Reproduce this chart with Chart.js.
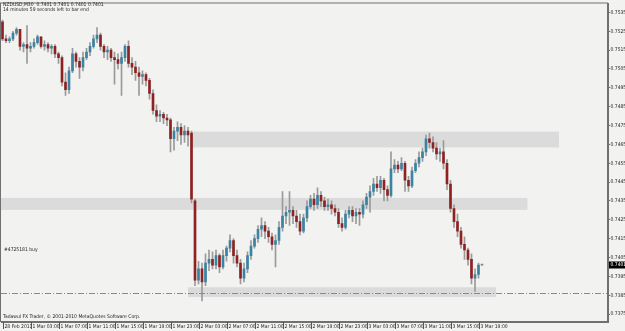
<!DOCTYPE html>
<html><head><meta charset="utf-8">
<script src="https://cdn.jsdelivr.net/npm/chart.js@4.4.1/dist/chart.umd.min.js"></script>
<style>html,body{margin:0;padding:0;background:#f2f2f0;}canvas{display:block;}</style>
</head><body>
<canvas id="c" width="625" height="331"></canvas>
<script>
const symbol = "NZDUSD,M30";
const timerText = "14 minutes 59 seconds left to bar end";
const copyright = "Tadawul FX Trader, \u00A9 2001-2010 MetaQuotes Software Corp.";
const timeLabels = ["28 Feb 2011","1 Mar 03:00","1 Mar 07:00","1 Mar 11:00","1 Mar 15:00","1 Mar 19:00","1 Mar 23:00","2 Mar 03:00","2 Mar 07:00","2 Mar 11:00","2 Mar 15:00","2 Mar 19:00","2 Mar 23:00","3 Mar 03:00","3 Mar 07:00","3 Mar 11:00","3 Mar 15:00","3 Mar 19:00"];
const barsPerLabel = 8;
const yTicks = [0.7375,0.7385,0.7395,0.7405,0.7415,0.7425,0.7435,0.7445,0.7455,0.7465,0.7475,0.7485,0.7495,0.7505,0.7515,0.7525,0.7535];

const O = [
0.7530,0.7521,0.7520,0.7521,0.7524,0.7526,0.7517,0.7518,0.7516,0.7517,
0.7519,0.7522,0.7517,0.7518,0.7516,0.7517,0.7513,0.7511,0.7498,0.7494,
0.7504,0.7513,0.7509,0.7506,0.7511,0.7514,0.7517,0.7521,0.7523,0.7517,
0.7514,0.7515,0.7511,0.7510,0.7508,0.7511,0.7517,0.7508,0.7506,0.7503,
0.7501,0.7502,0.7499,0.7492,0.7483,0.7480,0.7481,0.7479,0.7478,0.7468,
0.7472,0.7474,0.7470,0.7472,0.7471,0.7435,0.7393,0.7399,0.7392,0.7402,
0.7404,0.7401,0.7406,0.7400,0.7406,0.7410,0.7414,0.7406,0.7402,0.7394,
0.7399,0.7406,0.7411,0.7415,0.7420,0.7422,0.7419,0.7416,0.7412,0.7414,
0.7421,0.7427,0.7429,0.7430,0.7427,0.7424,0.7419,0.7426,0.7432,0.7436,
0.7433,0.7438,0.7435,0.7432,0.7433,0.7431,0.7429,0.7423,0.7421,0.7428,
0.7430,0.7427,0.7429,0.7428,0.7433,0.7437,0.7440,0.7444,0.7442,0.7446,
0.7441,0.7438,0.7452,0.7454,0.7452,0.7455,0.7446,0.7443,0.7451,0.7455,
0.7458,0.7461,0.7468,0.7466,0.7463,0.7460,0.7461,0.7455,0.7444,0.7431,
0.7424,0.7419,0.7412,0.7409,0.7404,0.7394,0.7396,0.7401];
const H = [
0.7531,0.7523,0.7522,0.7525,0.7527,0.7526,0.7519,0.7528,0.7519,0.7521,
0.7523,0.7522,0.7520,0.7519,0.7518,0.7518,0.7514,0.7512,0.7503,0.7506,
0.7516,0.7514,0.7511,0.7514,0.7516,0.7519,0.7523,0.7527,0.7524,0.7518,
0.7517,0.7516,0.7514,0.7513,0.7514,0.7518,0.7520,0.7511,0.7509,0.7506,
0.7504,0.7503,0.7500,0.7494,0.7486,0.7483,0.7482,0.7481,0.7479,0.7474,
0.7477,0.7476,0.7475,0.7474,0.7472,0.7436,0.7403,0.7402,0.7407,0.7409,
0.7408,0.7409,0.7407,0.7409,0.7411,0.7417,0.7415,0.7409,0.7404,0.7402,
0.7408,0.7414,0.7417,0.7422,0.7426,0.7424,0.7421,0.7418,0.7417,0.7424,
0.7440,0.7432,0.7440,0.7432,0.7430,0.7428,0.7428,0.7435,0.7438,0.7439,
0.7442,0.7440,0.7437,0.7436,0.7435,0.7433,0.7431,0.7426,0.7430,0.7432,
0.7432,0.7431,0.7431,0.7435,0.7439,0.7443,0.7447,0.7448,0.7448,0.7447,
0.7443,0.7461,0.7457,0.7456,0.7458,0.7456,0.7448,0.7453,0.7457,0.7461,
0.7463,0.7470,0.7471,0.7469,0.7466,0.7463,0.7467,0.7457,0.7446,0.7433,
0.7428,0.7421,0.7416,0.7410,0.7407,0.7399,0.7402,0.7401];
const L = [
0.7520,0.7519,0.7519,0.7520,0.7523,0.7515,0.7514,0.7508,0.7514,0.7516,
0.7518,0.7516,0.7515,0.7514,0.7513,0.7511,0.7508,0.7496,0.7491,0.7492,
0.7503,0.7506,0.7500,0.7504,0.7510,0.7512,0.7516,0.7519,0.7515,0.7511,
0.7510,0.7509,0.7497,0.7505,0.7491,0.7509,0.7506,0.7502,0.7499,0.7491,
0.7497,0.7496,0.7489,0.7481,0.7477,0.7477,0.7476,0.7475,0.7461,0.7462,
0.7467,0.7465,0.7466,0.7464,0.7434,0.7390,0.7391,0.7382,0.7390,0.7398,
0.7399,0.7399,0.7397,0.7399,0.7403,0.7408,0.7402,0.7400,0.7391,0.7392,
0.7397,0.7404,0.7410,0.7413,0.7416,0.7415,0.7413,0.7409,0.7400,0.7412,
0.7419,0.7423,0.7422,0.7423,0.7421,0.7417,0.7418,0.7424,0.7431,0.7430,
0.7431,0.7432,0.7430,0.7430,0.7428,0.7427,0.7421,0.7419,0.7420,0.7426,
0.7424,0.7423,0.7422,0.7426,0.7431,0.7429,0.7438,0.7440,0.7439,0.7435,
0.7435,0.7437,0.7450,0.7450,0.7451,0.7440,0.7440,0.7442,0.7450,0.7453,
0.7456,0.7459,0.7463,0.7461,0.7457,0.7456,0.7452,0.7441,0.7429,0.7421,
0.7416,0.7410,0.7404,0.7401,0.7391,0.7387,0.7394,0.7401];
const C = [
0.7521,0.7520,0.7521,0.7524,0.7526,0.7517,0.7518,0.7516,0.7517,0.7519,
0.7522,0.7517,0.7518,0.7516,0.7517,0.7513,0.7511,0.7498,0.7494,0.7504,
0.7513,0.7509,0.7506,0.7511,0.7514,0.7517,0.7521,0.7523,0.7517,0.7514,
0.7515,0.7511,0.7510,0.7508,0.7511,0.7517,0.7508,0.7506,0.7503,0.7501,
0.7502,0.7499,0.7492,0.7483,0.7480,0.7481,0.7479,0.7478,0.7468,0.7472,
0.7474,0.7470,0.7472,0.7470,0.7436,0.7393,0.7399,0.7392,0.7402,0.7404,
0.7401,0.7406,0.7400,0.7406,0.7410,0.7414,0.7406,0.7402,0.7394,0.7399,
0.7406,0.7411,0.7415,0.7420,0.7422,0.7419,0.7416,0.7412,0.7414,0.7421,
0.7427,0.7429,0.7430,0.7427,0.7424,0.7419,0.7426,0.7432,0.7436,0.7433,
0.7438,0.7435,0.7432,0.7433,0.7431,0.7429,0.7423,0.7421,0.7428,0.7430,
0.7427,0.7429,0.7428,0.7433,0.7437,0.7440,0.7444,0.7442,0.7446,0.7441,
0.7438,0.7452,0.7454,0.7452,0.7455,0.7446,0.7443,0.7451,0.7455,0.7458,
0.7461,0.7468,0.7466,0.7463,0.7460,0.7461,0.7455,0.7444,0.7431,0.7424,
0.7419,0.7412,0.7409,0.7404,0.7394,0.7396,0.7401,0.7401];

const currentPrice = 0.7401;
const orderPrice = 0.73861;
const orderLabel = "#4725181 buy";
const bandStart  = [54, -2, 53];
const bandEnd    = [159, 150, 141];
const bandTop    = [0.74718, 0.74366, 0.73892];
const bandBottom = [0.74634, 0.74303, 0.73840];

const idx = O.map((_, i) => i);
const wickData = idx.map(i => ({x: i, y: [L[i], H[i]]}));
const bodyData = idx.map(i => ({x: i, y: [Math.min(O[i], C[i]), Math.max(O[i], C[i])]}));
const BULL = '#3a83a3', BEAR = '#8e2222', DOJI = '#8c8c8c', WICK = '#9a9a9a';
const bodyColors = idx.map(i => C[i] > O[i] ? BULL : (C[i] < O[i] ? BEAR : DOJI));

const FONT = '"Liberation Sans Narrow", "DejaVu Sans Condensed", "Liberation Sans", sans-serif';

const mtPlugin = {
  id: 'mt',
  beforeDraw(chart) {
    const ctx = chart.ctx;
    ctx.save();
    ctx.fillStyle = '#f2f2f0';
    ctx.fillRect(0, 0, chart.width, chart.height);
    ctx.restore();
  },
  beforeDatasetsDraw(chart) {
    const {ctx, chartArea: a, scales: {x, y}} = chart;
    ctx.save();
    ctx.beginPath(); ctx.rect(a.left, a.top, a.right - a.left, a.bottom - a.top); ctx.clip();
    ctx.fillStyle = '#dbdbdb';
    for (let k = 0; k < bandStart.length; k++) {
      const x1 = x.getPixelForValue(bandStart[k]), x2 = x.getPixelForValue(bandEnd[k]);
      const y1 = y.getPixelForValue(bandTop[k]), y2 = y.getPixelForValue(bandBottom[k]);
      ctx.fillRect(x1, y1, x2 - x1, y2 - y1);
    }
    ctx.restore();
  },
  afterDatasetsDraw(chart) {
    const {ctx, chartArea: a, scales: {y}} = chart;
    ctx.save();
    const py = Math.round(y.getPixelForValue(orderPrice)) + 0.5;
    ctx.strokeStyle = '#e06666';
    ctx.lineWidth = 1;
    ctx.setLineDash([6, 2, 1, 2]);
    ctx.beginPath(); ctx.moveTo(a.left, py); ctx.lineTo(a.right, py); ctx.stroke();
    ctx.restore();
  },
  afterDraw(chart) {
    const {ctx, chartArea: a, scales: {x, y}} = chart;
    ctx.save();
    ctx.strokeStyle = '#707070';
    ctx.lineWidth = 1;
    ctx.strokeRect(a.left - 0.5, a.top - 0.5, a.right - a.left, a.bottom - a.top);
    ctx.strokeStyle = '#555';
    for (let k = 0; k < timeLabels.length; k++) {
      const px = Math.round(x.getPixelForValue(k * barsPerLabel)) + 0.5;
      ctx.beginPath(); ctx.moveTo(px, a.bottom); ctx.lineTo(px, a.bottom + 7); ctx.stroke();
    }
    ctx.fillStyle = '#222';
    ctx.textBaseline = 'middle';
    ctx.textAlign = 'left';
    ctx.font = '5px ' + FONT;
    const n = O.length - 1;
    ctx.fillText(symbol + '  ' + [O[n], H[n], L[n], C[n]].map(v => v.toFixed(4)).join(' '), 3, 4.5);
    ctx.fillText(timerText, 3, 9.5);
    ctx.fillText(orderLabel, 4, 250);
    ctx.fillText(copyright, 3, 316.5);
    const cy = y.getPixelForValue(currentPrice);
    ctx.fillStyle = '#000';
    ctx.fillRect(a.right + 1, Math.round(cy) - 3.5, 16, 7);
    ctx.fillStyle = '#fff';
    ctx.font = '5px ' + FONT;
    ctx.fillText(currentPrice.toFixed(4), a.right + 2.5, cy);
    ctx.restore();
  }
};

new Chart(document.getElementById('c'), {
  type: 'bar',
  data: {
    datasets: [
      {data: bodyData, backgroundColor: bodyColors, barThickness: 2, grouped: false, order: 0, minBarLength: 1},
      {data: wickData, backgroundColor: WICK, barThickness: 1, grouped: false, order: 1}
    ]
  },
  options: {
    responsive: false,
    animation: false,
    events: [],
    devicePixelRatio: 1,
    layout: {padding: {left: 1, top: 1, right: 0, bottom: 0}},
    plugins: {legend: {display: false}, tooltip: {enabled: false}},
    scales: {
      x: {
        type: 'linear', min: -0.43, max: 173, offset: false,
        afterBuildTicks: s => { s.ticks = timeLabels.map((t, k) => ({value: k * barsPerLabel})); },
        afterFit: s => { s.height = 9; },
        grid: {drawOnChartArea: false, drawTicks: false},
        border: {display: true, color: '#707070'},
        ticks: {autoSkip: false, maxRotation: 0, minRotation: 0, align: 'start', labelOffset: 2, padding: 2,
          color: '#222', font: {family: FONT, size: 5},
          callback: v => timeLabels[Math.round(v / barsPerLabel)] || ''}
      },
      y: {
        position: 'right', min: 0.737079, max: 0.753974,
        afterBuildTicks: s => { s.ticks = yTicks.map(v => ({value: v})); },
        afterFit: s => { s.width = 17; },
        grid: {drawOnChartArea: false, drawTicks: true, tickLength: 2, tickColor: '#707070'},
        border: {display: true, color: '#707070'},
        ticks: {padding: 0.5, color: '#222', font: {family: FONT, size: 5}, callback: v => Number(v).toFixed(4)}
      }
    }
  },
  plugins: [mtPlugin]
});
</script>
</body></html>
